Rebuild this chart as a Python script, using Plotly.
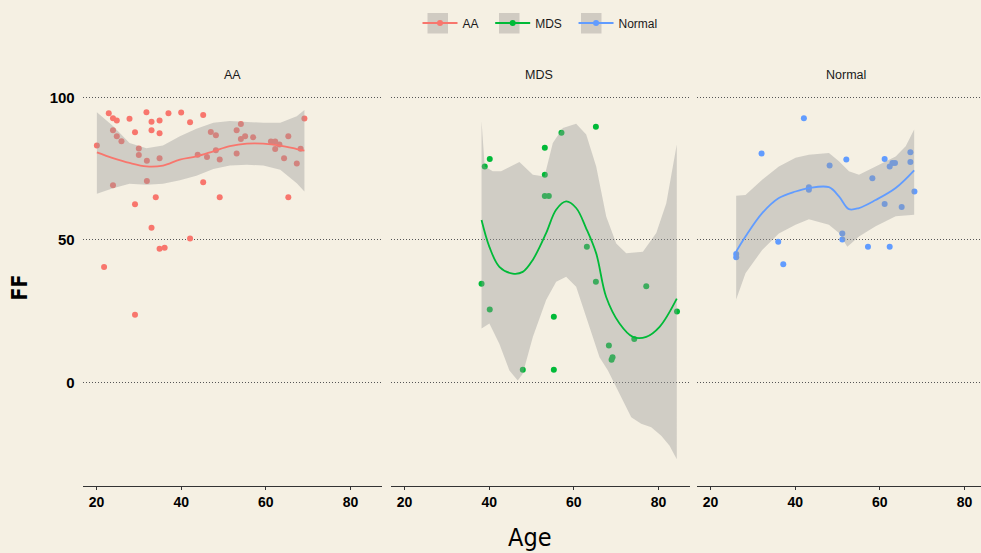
import plotly.graph_objects as go

# ---------------- data ----------------
groups = ["AA", "MDS", "Normal"]
colors = ["#F8766D", "#00BA38", "#619CFF"]

aa_age = [20.1, 22.9, 23.9, 24.8, 23.9, 24.8, 25.9, 23.9, 21.8, 27.8, 29.1, 29.1, 29.1,
          30.0, 30.0, 31.8, 31.9, 31.9, 33.0, 33.0, 34.0, 33.0, 34.9, 34.9, 34.9, 34.9,
          36.1, 37.0, 40.0, 42.1, 42.1, 43.9, 45.2, 45.2, 46.1, 47.0, 48.2, 48.2, 49.1,
          49.1, 53.1, 54.1, 54.1, 55.1, 53.1, 57.0, 61.2, 62.2, 62.2, 63.2, 64.3, 65.3,
          65.3, 67.3, 68.2, 69.1]
aa_ff = [83.1, 94.4, 92.7, 91.9, 88.5, 86.4, 84.6, 69.2, 40.5, 92.5, 87.8, 62.5, 23.8,
         82.1, 79.8, 94.8, 77.8, 70.7, 91.5, 88.5, 65.0, 54.3, 91.9, 87.4, 78.7, 46.9,
         47.3, 94.4, 94.7, 91.3, 50.5, 79.9, 93.8, 70.2, 79.1, 87.9, 86.7, 81.5, 78.2,
         65.0, 88.5, 90.7, 85.4, 86.4, 80.3, 86.0, 84.5, 84.5, 81.9, 83.5, 78.7, 86.4,
         65.0, 76.8, 82.0, 92.6]

mds_age = [38.96, 40.14, 38.2, 40.14, 47.94, 53.14, 53.14, 53.14, 54.09, 55.27, 55.27,
           57.07, 65.2, 63.07, 65.2, 68.27, 69.13, 68.9, 74.26, 77.09, 84.35]
mds_ff = [75.8, 78.4, 34.6, 25.6, 4.5, 82.3, 72.9, 65.4, 65.4, 23.1, 4.5,
          87.6, 89.7, 47.6, 35.3, 13.0, 8.9, 8.0, 15.3, 33.8, 24.9]

nor_age = [26.08, 26.08, 32.06, 36.0, 37.19, 42.06, 43.24, 43.24, 48.13, 52.08, 51.13,
           51.13, 57.19, 58.23, 61.13, 61.13, 62.32, 62.32, 62.96, 63.57, 65.15, 67.21,
           67.21, 68.16]
nor_ff = [45.1, 43.9, 80.3, 49.4, 41.5, 92.7, 68.5, 67.6, 76.1, 78.2, 52.3,
          50.2, 47.6, 71.6, 78.4, 62.6, 47.6, 75.8, 77.0, 77.0, 61.6, 80.8,
          77.3, 67.0]

# smoothed curves (loess) and their confidence bands
aa_fit_age = [20.1, 23.9, 27.8, 31.8, 35.7, 39.7, 43.6, 47.6, 51.5, 55.5, 59.4, 63.4, 67.3, 69.1]
aa_fit = [80.7, 78.7, 77.0, 75.8, 76.1, 78.2, 79.3, 81.1, 82.9, 83.8, 83.8, 83.1, 81.9, 81.3]
aa_up = [94.8, 90.0, 84.0, 82.2, 83.1, 86.4, 89.0, 91.1, 91.7, 91.3, 91.1, 91.1, 93.4, 95.6]
aa_lo = [66.2, 68.1, 69.7, 69.4, 69.7, 70.9, 72.5, 74.9, 76.1, 76.4, 76.1, 74.6, 69.9, 67.0]

mds_fit_age = [38.2, 40.05, 42.41, 45.56, 47.93, 50.29, 53.45, 55.81, 58.18, 60.54,
               62.9, 65.27, 67.63, 70.78, 73.93, 77.09, 80.24, 84.3]
mds_fit = [57.0, 47.6, 40.6, 38.2, 38.8, 43.0, 52.4, 60.6, 63.5, 61.2,
           54.1, 45.3, 30.0, 20.7, 16.0, 16.0, 19.5, 29.4]
mds_up_age = [38.2, 38.5, 38.95, 40.85, 42.81, 47.14, 50.31, 53.06, 55.03, 57.4, 60.54,
              62.91, 65.27, 67.64, 70.0, 72.36, 76.3, 79.46, 81.82, 84.3]
mds_up = [91.7, 84.0, 75.8, 74.1, 74.1, 77.3, 72.9, 72.3, 84.0, 89.3, 90.8,
          87.0, 75.8, 58.2, 48.8, 45.3, 45.9, 52.4, 62.9, 83.5]
mds_lo_age = [38.2, 40.05, 42.4, 44.78, 46.75, 47.93, 50.31, 53.45, 55.82, 58.18, 60.54,
              62.91, 66.06, 68.04, 69.6, 71.58, 73.55, 75.9, 78.27, 80.64, 82.6, 84.3]
mds_lo = [18.9, 20.7, 13.6, 4.2, 0.7, 3.1, 16.0, 28.9, 35.3, 37.1, 33.6,
          23.0, 8.9, 4.2, -0.5, -6.3, -12.2, -14.5, -15.7, -18.7, -22.2, -26.9]

nor_fit_age = [26.07, 28.27, 32.21, 36.15, 40.09, 43.25, 47.97, 50.34, 52.7, 55.07, 59.0, 63.73, 68.1]
nor_fit = [45.9, 51.2, 59.4, 64.7, 67.0, 68.2, 68.5, 65.3, 60.8, 61.2, 64.0, 68.2, 74.4]
nor_up_age = [26.07, 28.27, 32.21, 36.15, 40.09, 43.25, 47.97, 50.34, 52.7, 55.07, 59.0, 63.73, 66.1, 68.1]
nor_up = [65.5, 65.8, 71.1, 75.8, 78.8, 79.9, 80.5, 77.6, 74.1, 72.9, 75.8, 79.3, 82.9, 88.7]
nor_lo_age = [26.07, 28.27, 32.21, 36.15, 40.09, 43.25, 47.97, 50.34, 52.31, 55.07, 59.0, 63.73, 68.1]
nor_lo = [29.1, 38.3, 46.5, 52.3, 55.3, 57.3, 55.3, 52.4, 47.6, 51.2, 54.8, 58.3, 58.8]

y_ticks = [0, 50, 100]
x_ticks = [20, 40, 60, 80]

# ---------------- figure ----------------
W, H = 981, 553
BG = "#F5F0E3"
BAND = "rgba(153,153,153,0.4)"
BOLD = "Liberation Sans, Arial, sans-serif"
NARROW = "Liberation Sans Narrow, DejaVu Sans Condensed, sans-serif"
PAD = "\u00a0\u00a0"

panels = [
    (aa_age, aa_ff, aa_fit_age, aa_fit, aa_fit_age, aa_up, aa_fit_age, aa_lo),
    (mds_age, mds_ff, mds_fit_age, mds_fit, mds_up_age, mds_up, mds_lo_age, mds_lo),
    (nor_age, nor_ff, nor_fit_age, nor_fit, nor_up_age, nor_up, nor_lo_age, nor_lo),
]

fig = go.Figure()
for i, (g, c, p) in enumerate(zip(groups, colors, panels)):
    ax = "" if i == 0 else str(i + 1)
    xa, ya = "x" + ax, "y" + ax
    age, ff, fa, fv, ua, uv, la, lv = p
    fig.add_trace(go.Scatter(x=age, y=ff, mode="markers", xaxis=xa, yaxis=ya,
                             marker=dict(color=c, size=6, symbol="circle"),
                             showlegend=False, hoverinfo="x+y"))
    fig.add_trace(go.Scatter(x=list(ua) + list(la)[::-1], y=list(uv) + list(lv)[::-1],
                             mode="lines", fill="toself", fillcolor=BAND,
                             line=dict(width=0), xaxis=xa, yaxis=ya,
                             showlegend=False, hoverinfo="skip"))
    fig.add_trace(go.Scatter(x=fa, y=fv, mode="lines", xaxis=xa, yaxis=ya,
                             line=dict(color=c, width=1.8, shape="spline"),
                             showlegend=False, hoverinfo="skip"))
    # legend entry
    fig.add_trace(go.Scatter(x=[None], y=[None], mode="lines+markers",
                             name=g + (PAD if i < 2 else ""),
                             xaxis=xa, yaxis=ya,
                             line=dict(color=c, width=1.8),
                             marker=dict(color=c, size=6)))

xr = [16.75, 87.35]
xr3 = [16.75, 16.75 + (xr[1] - xr[0]) * (981 - 696.7) / 299.0]
yr = [-36.3, 104.0]
doms = [[82.7 / W, 381.7 / W], [390.7 / W, 689.7 / W], [696.7 / W, 1.0]]
ydom = [(H - 486) / H, (H - 86) / H]

xcommon = dict(showline=True, linecolor="#333333", linewidth=1.2, ticks="outside",
               ticklen=3, tickcolor="#333333", tickwidth=1.1, showgrid=False,
               zeroline=False, tickvals=x_ticks, ticklabelstandoff=0,
               tickfont=dict(family=BOLD, size=14, color="#000000", weight="bold"))
ycommon = dict(range=yr, domain=ydom, showline=False, ticks="", showgrid=True,
               gridcolor="#555555", gridwidth=1, griddash="1px,2px", zeroline=False,
               tickvals=y_ticks)

layout = dict(width=W, height=H, paper_bgcolor=BG, plot_bgcolor=BG,
              margin=dict(l=0, r=0, t=0, b=0),
              legend=dict(orientation="h", x=417.5 / W, xanchor="left", y=1 - 23 / H,
                          yanchor="middle", bgcolor="rgba(0,0,0,0)",
                          font=dict(family=BOLD, size=12, color="#1a1a1a"),
                          itemwidth=35))
for i in range(3):
    ax = "" if i == 0 else str(i + 1)
    xd = dict(xcommon, domain=doms[i], range=xr3 if i == 2 else xr, anchor="y" + ax)
    yd = dict(ycommon, anchor="x" + ax)
    if i == 0:
        yd.update(showticklabels=True, ticklabelstandoff=7,
                  tickfont=dict(family=BOLD, size=15, color="#000000", weight="bold"))
    else:
        yd.update(showticklabels=False, matches="y")
    layout["xaxis" + ax] = xd
    layout["yaxis" + ax] = yd

ann = []
for i, g in enumerate(groups):
    cx = (82.7 + 306.9 * i + 149.5) / W
    ann.append(dict(text=g, x=cx, y=(H - 75) / H, xref="paper", yref="paper",
                    showarrow=False, xanchor="center", yanchor="middle",
                    font=dict(family=BOLD, size=12.5, color="#1a1a1a")))
ann.append(dict(text="Age", x=530 / W, y=(H - 537) / H, xref="paper", yref="paper",
                showarrow=False, xanchor="center", yanchor="middle",
                font=dict(family=NARROW, size=25, color="#000000")))
ann.append(dict(text="FF", x=19 / W, y=(H - 287.5) / H, xref="paper", yref="paper",
                showarrow=False, xanchor="center", yanchor="middle", textangle=-90,
                font=dict(family=NARROW, size=21, color="#000000", weight="bold")))
layout["annotations"] = ann

shapes = []
for x0 in [427.5, 499.0, 581.0]:
    shapes.append(dict(type="rect", xref="paper", yref="paper", layer="below",
                       x0=x0 / W, x1=(x0 + 20.5) / W, y0=(H - 33.5) / H, y1=(H - 13) / H,
                       fillcolor="#D0CBC2", line=dict(width=0)))
layout["shapes"] = shapes

fig.update_layout(**layout)
fig.write_html("out.html", config={"displayModeBar": False},
               post_script="document.body.style.margin='0';document.body.style.overflow='hidden';")
